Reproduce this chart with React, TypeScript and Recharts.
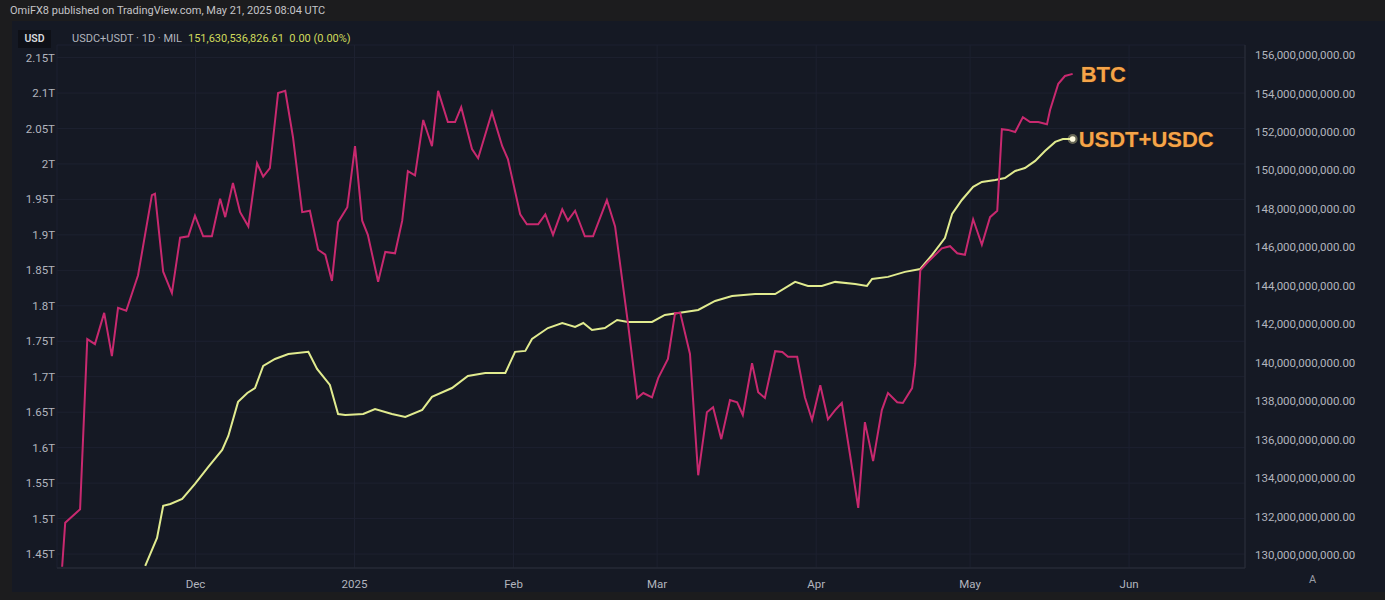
import React from "react";
import { LineChart, Line, XAxis, YAxis, CartesianGrid } from "recharts";

// Day offsets counted from 5 Nov 2024
const btcDays = [0,0.6,3.5,4.9,6.4,8.2,9.7,10.9,12.5,14.8,17.5,18.1,19.7,21.4,23,24.6,25.9,27.5,29.2,30.8,31.8,33.3,34.7,36.3,38,39.2,40.5,42.1,43.5,45,46.8,48.3,49.9,51.3,52.6,53.8,55.6,57.1,58.5,59.6,61.6,63,64.9,66.3,67.4,68.8,70.4,72.1,73.3,75.2,76.6,77.8,79.9,81.1,83.8,85.8,86.9,89.3,90.6,92.8,94.2,95.7,97.5,98.6,100,101.9,103.5,106.2,107.8,110.3,112.1,113.3,115,116.2,118.1,119.5,120.5,122.4,124,125.7,126.9,128.5,130.2,131.6,132.7,134.5,135.7,137,139,140.4,141.5,143.3,144.8,146.2,147.8,149.3,150.7,152,153.6,155.2,156.5,158.1,159.8,161,162.8,163.9,165.7,166.3,167.3,168.8,171.5,173.1,174.5,176,177.6,179.3,180.9,182.3,183.2,184.4,185.8,187.3,188.7,190.3,192,192.6,194.2,195.5,197];
// BTC market cap, trillions USD
const btcCapT = [1.432,1.494,1.513,1.753,1.746,1.790,1.729,1.797,1.793,1.843,1.956,1.958,1.848,1.818,1.896,1.898,1.927,1.898,1.898,1.951,1.925,1.973,1.932,1.912,2.001,1.982,1.994,2.100,2.103,2.038,1.932,1.934,1.879,1.872,1.835,1.918,1.939,2.025,1.920,1.900,1.834,1.876,1.874,1.920,1.990,1.984,2.062,2.025,2.103,2.059,2.059,2.080,2.021,2.008,2.073,2.025,2.007,1.929,1.915,1.915,1.929,1.900,1.936,1.920,1.934,1.898,1.898,1.949,1.912,1.776,1.670,1.677,1.671,1.698,1.725,1.790,1.790,1.732,1.561,1.650,1.657,1.612,1.667,1.664,1.646,1.719,1.678,1.670,1.736,1.735,1.728,1.728,1.671,1.639,1.688,1.640,1.653,1.663,1.590,1.515,1.636,1.581,1.653,1.677,1.664,1.663,1.684,1.718,1.850,1.862,1.881,1.884,1.874,1.872,1.922,1.886,1.925,1.934,2.049,2.048,2.045,2.066,2.059,2.059,2.056,2.076,2.113,2.124,2.127];

const stableDays = [16.2,18.5,19.7,21.1,23.4,25.9,28.5,31.2,32.4,34.3,36.1,37.6,39.2,41.5,44.1,48,49.7,52.2,53.8,55.2,58.7,61,64.3,66.9,70.2,72.1,76,79.1,82.5,86.4,88.3,90.3,91.6,94.7,97.5,100,101.6,103.3,105.8,108.2,110.3,115,117.5,124,127.3,130.6,135.1,139,142.9,145.4,148.1,150.7,154.6,156.9,157.9,161,164.3,167.3,169.6,172.1,173.5,175.4,177.6,179.3,181.9,183.8,185.8,187.7,189.7,191.6,193.6,195.1,197];
// USDT+USDC supply, billions USD
const stableSupplyB = [129.43,130.88,132.55,132.65,132.91,133.69,134.58,135.46,136.19,137.96,138.42,138.68,139.83,140.19,140.45,140.56,139.67,138.84,137.33,137.28,137.33,137.59,137.33,137.18,137.54,138.22,138.68,139.31,139.46,139.46,140.56,140.61,141.23,141.80,142.06,141.86,142.06,141.70,141.80,142.22,142.12,142.12,142.48,142.74,143.21,143.47,143.57,143.57,144.20,143.99,143.99,144.20,144.09,143.99,144.35,144.46,144.72,144.87,145.60,146.48,147.73,148.46,149.14,149.40,149.50,149.60,149.97,150.12,150.49,151.01,151.48,151.63,151.63];

const leftTicks = [1.45,1.5,1.55,1.6,1.65,1.7,1.75,1.8,1.85,1.9,1.95,2,2.05,2.1,2.15];
const rightTicks = [130,132,134,136,138,140,142,144,146,148,150,152,154,156];
const monthTickDays = [26,57,88,116,147,177,208];
const monthTickLabels = ["Dec","2025","Feb","Mar","Apr","May","Jun"];

const btcData = btcDays.map((d, i) => ({ d, btc: btcCapT[i] }));
const stableData = stableDays.map((d, i) => ({ d, stable: stableSupplyB[i] }));

const FONT = "Roboto, 'Noto Sans', sans-serif";
const AXIS_TEXT = "#b2b5be";

const endLabel = (text: string, lastIndex: number, dx: number) => (props: any) => {
  if (props.index !== lastIndex) return null;
  return (
    <text
      key={"lbl" + text}
      x={props.x + dx}
      y={props.y}
      dy={8}
      fill="#f5a449"
      stroke="#3a2410"
      strokeWidth={1}
      paintOrder="stroke"
      fontSize={22}
      fontWeight={700}
      fontFamily="Arial, 'Liberation Sans', sans-serif"
    >
      {text}
    </text>
  );
};

const stableDot = (props: any) => {
  if (props.index !== stableData.length - 1) return <g key={"sd" + props.index} />;
  return (
    <g key="sdEnd">
      <circle cx={props.cx} cy={props.cy} r={5} fill="#fff6b0" opacity={0.35} />
      <circle cx={props.cx} cy={props.cy} r={2.8} fill="#fffbe0" />
    </g>
  );
};

export default function App() {
  return (
    <div style={{ position: "relative", width: 1385, height: 600, background: "#1c1c1e", overflow: "hidden", fontFamily: FONT }}>
      <style>{`body{margin:0}`}</style>
      <div style={{ position: "absolute", left: 12, top: 21, width: 1373, height: 571, background: "#151924" }} />
      <div style={{ position: "absolute", left: 10, top: 4, fontSize: 11, color: "#c4c4c8", whiteSpace: "nowrap" }}>
        OmiFX8 published on TradingView.com, May 21, 2025 08:04 UTC
      </div>
      <div style={{ position: "absolute", left: 18, top: 30, width: 33, height: 18, background: "#0e1017", color: "#d8d9de", fontSize: 10.5, fontWeight: 600, lineHeight: "18px", textAlign: "center" }}>
        USD
      </div>
      <div style={{ position: "absolute", left: 72, top: 32, fontSize: 11, whiteSpace: "nowrap" }}>
        <span style={{ color: "#b2b5be" }}>USDC+USDT · 1D · MIL</span>
        <span style={{ color: "#cfd95c", marginLeft: 6 }}>151,630,536,826.61&nbsp;&nbsp;0.00 (0.00%)</span>
      </div>
      <div style={{ position: "absolute", left: 1309, top: 573, fontSize: 11, color: "#9a9da6" }}>A</div>
      <div style={{ position: "absolute", left: 0, top: 0 }}>
        <LineChart width={1385} height={600} margin={{ top: 45, right: 0, bottom: 0, left: 2 }}>
          <CartesianGrid yAxisId="left" stroke="#1d2130" strokeWidth={1} />
          <XAxis
            dataKey="d"
            type="number"
            domain={[-1, 230.6]}
            ticks={monthTickDays}
            tickFormatter={(v: number) => monthTickLabels[monthTickDays.indexOf(v)] ?? ""}
            allowDataOverflow
            height={32}
            axisLine={{ stroke: "#2a2e39" }}
            tickLine={false}
            tick={{ fill: AXIS_TEXT, fontSize: 11.5, fontFamily: FONT }}
            tickMargin={6}
          />
          <YAxis
            yAxisId="left"
            orientation="left"
            type="number"
            domain={[1.4303, 2.1677]}
            ticks={leftTicks}
            allowDataOverflow
            width={55}
            axisLine={false}
            tickLine={false}
            tickSize={0}
            tickMargin={2}
            tick={{ fill: AXIS_TEXT, fontSize: 11.5, fontFamily: FONT }}
            tickFormatter={(v: number) => `${parseFloat(v.toFixed(2))}T`}
          />
          <YAxis
            yAxisId="right"
            orientation="right"
            type="number"
            domain={[129.32, 156.52]}
            ticks={rightTicks}
            allowDataOverflow
            width={140}
            axisLine={{ stroke: "#2a2e39" }}
            tickLine={false}
            tickSize={0}
            tickMargin={10}
            tick={{ fill: AXIS_TEXT, fontSize: 11.5, fontFamily: FONT }}
            tickFormatter={(v: number) => (v * 1e9).toLocaleString("en-US", { minimumFractionDigits: 2, maximumFractionDigits: 2 })}
          />
          <Line
            data={stableData}
            yAxisId="right"
            dataKey="stable"
            type="linear"
            stroke="#e1eb8f"
            strokeWidth={2}
            dot={stableDot}
            activeDot={false}
            isAnimationActive={false}
            label={endLabel("USDT+USDC", stableData.length - 1, 6)}
          />
          <Line
            data={btcData}
            yAxisId="left"
            dataKey="btc"
            type="linear"
            stroke="#c8296f"
            strokeWidth={2}
            dot={false}
            activeDot={false}
            isAnimationActive={false}
            label={endLabel("BTC", btcData.length - 1, 8)}
          />
        </LineChart>
      </div>
    </div>
  );
}
